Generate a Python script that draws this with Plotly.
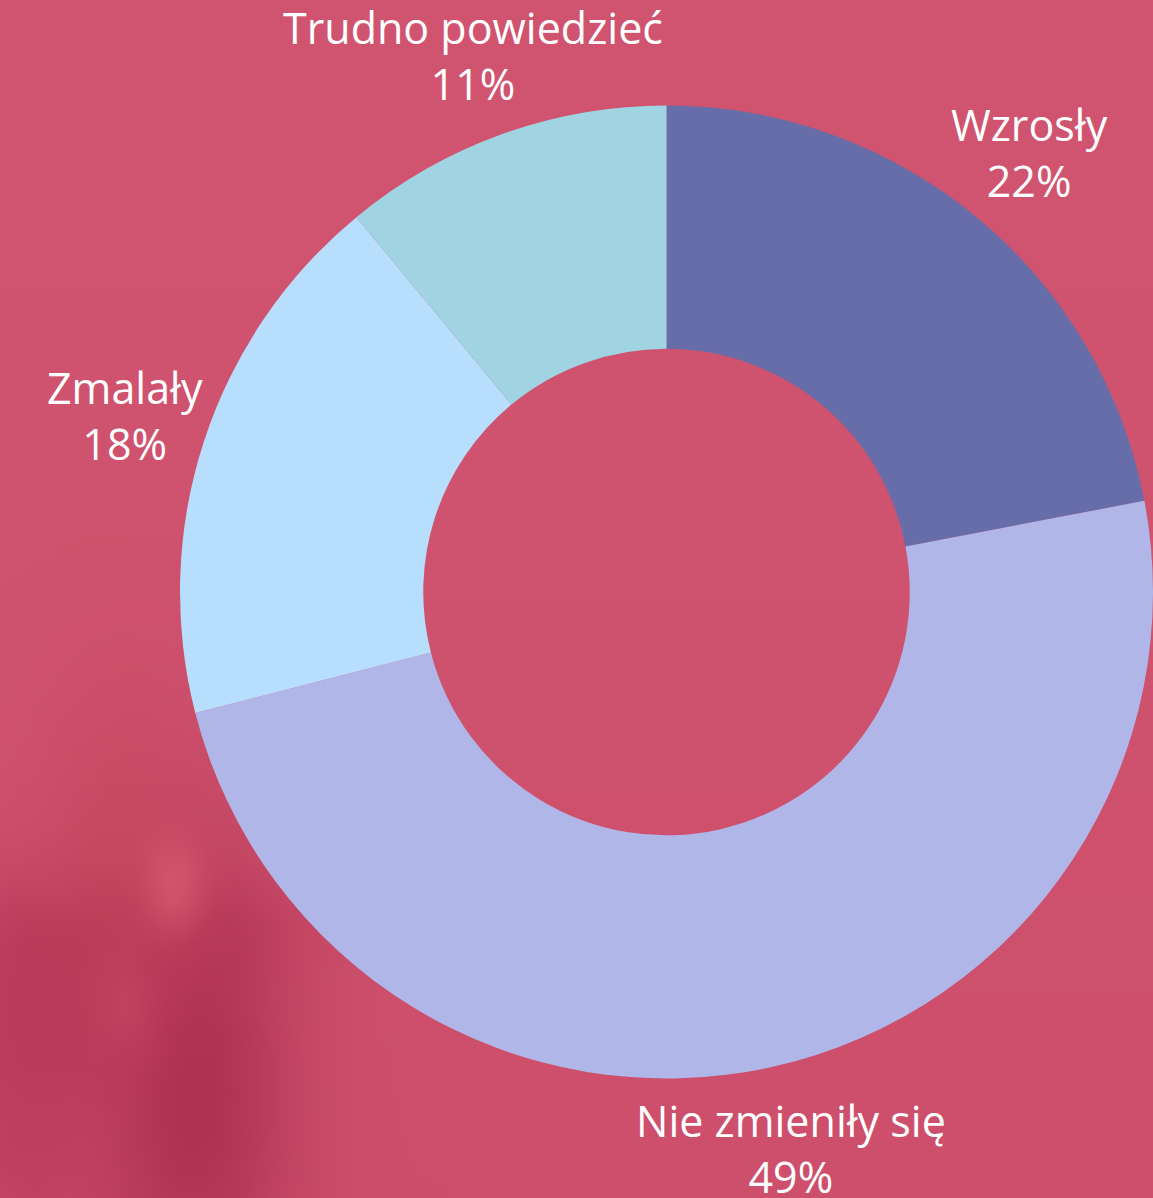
import math
import base64
import struct
import zlib
import numpy as np
import plotly.graph_objects as go

labels = ["Wzrosły", "Nie zmieniły się", "Zmalały", "Trudno powiedzieć"]
values = [22, 49, 18, 11]
colors = ["#676DA9", "#B0B6E8", "#B8DEFD", "#A0D4E2"]

W, H = 1153, 1198
dom_x = [180 / W, 1.0]
dom_y = [(H - 592 - 487) / H, (H - 592 + 487) / H]


# ---- blurred photo-like background (decoration only) ----
def make_bg():
    s = 10
    w, h = W // s + 1, H // s + 1
    yy, xx = np.mgrid[0:h, 0:w].astype(float) * s
    base = np.array([209, 85, 112], float)
    img = np.ones((h, w, 3)) * base
    img += (yy / H)[..., None] * np.array([-4, -6, -4])

    def blob(cx, cy, sx, sy, col, strength):
        g = np.exp(-(((xx - cx) / sx) ** 2 + ((yy - cy) / sy) ** 2) / 2) * strength
        return g[..., None], np.array(col, float)

    darks = [
        (190, 1090, 70, 170, [172, 48, 80], 0.95),
        (60, 1000, 90, 80, [182, 52, 85], 0.7),
        (20, 1120, 60, 120, [185, 55, 88], 0.6),
        (130, 930, 110, 35, [178, 50, 82], 0.55),
        (110, 840, 50, 110, [200, 70, 95], 0.5),
    ]
    for cx, cy, sx, sy, col, st in darks:
        g, c = blob(cx, cy, sx, sy, col, st)
        img = img * (1 - g) + c * g
    g, c = blob(170, 880, 22, 35, [212, 86, 110], 0.9)
    img = img * (1 - g) + c * g
    g, c = blob(120, 1000, 20, 30, [196, 72, 100], 0.6)
    img = img * (1 - g) + c * g
    img = np.clip(img, 0, 255).astype(np.uint8)

    raw = b"".join(b"\x00" + img[r].tobytes() for r in range(h))

    def chunk(t, d):
        return struct.pack(">I", len(d)) + t + d + struct.pack(">I", zlib.crc32(t + d) & 0xFFFFFFFF)

    png = (b"\x89PNG\r\n\x1a\n"
           + chunk(b"IHDR", struct.pack(">IIBBBBB", w, h, 8, 2, 0, 0, 0))
           + chunk(b"IDAT", zlib.compress(raw, 9))
           + chunk(b"IEND", b""))
    return "data:image/png;base64," + base64.b64encode(png).decode()


fig = go.Figure(go.Pie(
    labels=labels,
    values=values,
    hole=0.5,
    sort=False,
    direction="clockwise",
    rotation=0,
    marker=dict(colors=colors, line=dict(width=0)),
    textinfo="none",
    hoverinfo="label+percent",
    showlegend=False,
    domain=dict(x=dom_x, y=dom_y),
))

# labels placed outside at each slice's mid-angle
cx = (dom_x[0] + dom_x[1]) / 2
cy = (dom_y[0] + dom_y[1]) / 2
r_px = 487
dist = 1.17 * r_px
total = sum(values)
annotations = []
cum = 0
for lab, v in zip(labels, values):
    mid = (cum + v / 2) / total * 2 * math.pi
    cum += v
    ax = cx + dist * math.sin(mid) / W
    ay = cy + dist * math.cos(mid) / H
    annotations.append(dict(
        x=ax, y=ay, xref="paper", yref="paper",
        text=f"{lab}<br>{round(v / total * 100)}%",
        showarrow=False, xanchor="center", yanchor="middle",
        font=dict(family="Open Sans", size=43, color="white"),
    ))

fig.update_layout(
    width=W, height=H,
    margin=dict(l=0, r=0, t=0, b=0),
    paper_bgcolor="#D15570",
    plot_bgcolor="#D15570",
    annotations=annotations,
    images=[dict(source=make_bg(), xref="paper", yref="paper", x=0, y=1,
                 sizex=1, sizey=1, xanchor="left", yanchor="top",
                 sizing="stretch", layer="below")],
)

fig.write_html("out.html",
               config={"displayModeBar": False},
               post_script="document.body.style.margin='0';document.body.style.overflow='hidden';")
